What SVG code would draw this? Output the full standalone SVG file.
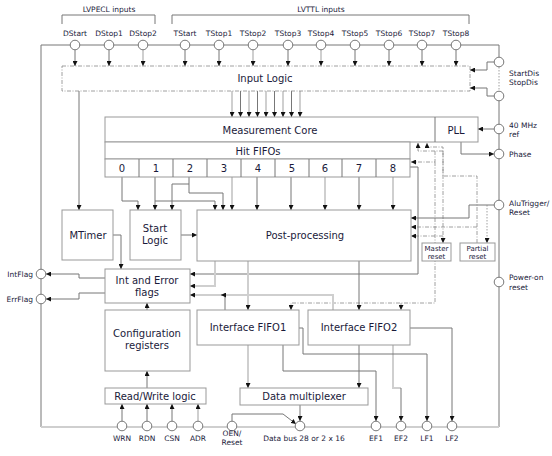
<svg xmlns="http://www.w3.org/2000/svg" width="552" height="456" viewBox="0 0 552 456">
<defs>
<marker id="a" viewBox="0 0 6 6" refX="6" refY="3" markerWidth="5" markerHeight="5" markerUnits="userSpaceOnUse" orient="auto"><path d="M0,0 L6,3 L0,6 z" fill="#111"/></marker>
<style>
.box{fill:#fff;stroke:#999;stroke-width:1}
.ln{fill:none;stroke:#777;stroke-width:1}
.lt{fill:none;stroke:#cfcfcf;stroke-width:2}
.dd{fill:none;stroke:#888;stroke-width:0.8;stroke-dasharray:4 1.5 1 1.5}
.dt{fill:none;stroke:#888;stroke-width:0.8;stroke-dasharray:1.5 1.5}
.ar{marker-end:url(#a)}
.c{fill:#fff;stroke:#777;stroke-width:1}
.t{font-family:"DejaVu Sans",Verdana,sans-serif;font-size:10px;fill:#1a1a3a;text-anchor:middle}
.s{font-size:7.5px}
.st{text-anchor:start}
.en{text-anchor:end}
.xs{font-size:7px}
</style>
</defs>

<g id="frame">
<path class="ln" d="M62,24 V15 H155 V24"/>
<text class="t s" x="109" y="12">LVPECL inputs</text>
<path class="ln" d="M172,24 V15 H469 V24"/>
<text class="t s" x="321" y="12">LVTTL inputs</text>
<path class="ln" d="M41,427 V45 H499 V57"/>
<path class="dt" d="M499,67 V91"/>
<path class="ln" d="M499,101 V427"/>
<path class="lt" d="M41,427 H499"/>
</g>

<g id="connectors">
<path class="ln ar" d="M75,50 V66"/>
<path class="ln ar" d="M109,50 V66"/>
<path class="lt ar" d="M143,50 V66"/>
<path class="ln ar" d="M185,50 V66"/>
<path class="ln ar" d="M219,50 V66"/>
<path class="lt ar" d="M253,50 V66"/>
<path class="ln ar" d="M288,50 V66"/>
<path class="lt ar" d="M321,50 V66"/>
<path class="ln ar" d="M355,50 V66"/>
<path class="ln ar" d="M389,50 V66"/>
<path class="ln ar" d="M422,50 V66"/>
<path class="ln ar" d="M456,50 V66"/>
<path class="ln ar" d="M494,62 H487 V70 H470"/>
<path class="ln ar" d="M494,96 H487 V88 H470"/>
<path class="lt ar" d="M232,91 V117"/>
<path class="ln ar" d="M240.5,91 V117"/>
<path class="lt ar" d="M249,91 V117"/>
<path class="ln ar" d="M257.5,91 V117"/>
<path class="lt ar" d="M266,91 V117"/>
<path class="ln ar" d="M274.5,91 V117"/>
<path class="lt ar" d="M283,91 V117"/>
<path class="ln ar" d="M291.5,91 V117"/>
<path class="lt ar" d="M300,91 V117"/>
<path class="ln ar" d="M79,91 V210"/>
<path class="ln ar" d="M494,129 H478"/>
<path class="ln ar" d="M461,142 V154 H494"/>
<path class="ln ar" d="M122,177 V201 H138 V210"/>
<path class="ln ar" d="M155,177 V210"/>
<path class="ln ar" d="M155,201 H215 V210"/>
<path class="ln ar" d="M189,177 V193 H223 V210"/>
<path class="ln ar" d="M189,184 H172 V210"/>
<path class="lt ar" d="M232,177 V210"/>
<path class="ln ar" d="M257,177 V210"/>
<path class="ln ar" d="M291,177 V210"/>
<path class="lt ar" d="M325,177 V210"/>
<path class="ln ar" d="M359,177 V210"/>
<path class="lt ar" d="M393,177 V210"/>
<path class="ln ar" d="M410,167 H418 V274 H190"/>
<path class="dd ar" d="M443,151 H418 V143"/>
<path class="dd ar" d="M443,151 V243"/>
<path class="dd ar" d="M477,243 V176 H443 V147 H427 V143"/>
<path class="dd ar" d="M435,151 V162 H411"/>
<path class="dd ar" d="M435,162 V303 H291 V310"/>
<path class="dd ar" d="M401,303 V310"/>
<path class="dd ar" d="M477,227 H411"/>
<path class="dd ar" d="M443,236 H411"/>
<path class="ln ar" d="M494,205 H469 V218 H411"/>
<path class="dt ar" d="M487,205 V243"/>
<path class="ln ar" d="M181,235 H197"/>
<path class="ln ar" d="M113,235 H121 V269"/>
<path class="ln ar" d="M105,278 H79 V274 H46"/>
<path class="ln ar" d="M105,293 H79 V299 H46"/>
<path class="lt ar" d="M215,261 V286 H190"/>
<path class="lt ar" d="M248,261 V310"/>
<path class="ln ar" d="M359,261 V310"/>
<path class="lt ar" d="M333,310 V295 H190"/>
<path class="ln ar" d="M225,310 V295 H221"/>
<path class="ln ar" d="M147,310 V303"/>
<path class="ln ar" d="M147,388 V371"/>
<path class="ln ar" d="M122,421 V404"/>
<path class="ln ar" d="M147,421 V404"/>
<path class="ln ar" d="M172,421 V404"/>
<path class="lt ar" d="M198,421 V404"/>
<path class="lt ar" d="M248,345 V388"/>
<path class="ln ar" d="M359,345 V388"/>
<path class="ln ar" d="M300,405 V421"/>
<path class="ln ar" d="M232,421 V414 H283 L296,424"/>
<path class="ln ar" d="M283,345 V371 H376 V421"/>
<path class="lt" d="M393,345 V388 H401"/>
<path class="ln ar" d="M401,388 V421"/>
<path class="ln ar" d="M299,328 H303 V354 H427 V421"/>
<path class="ln ar" d="M410,328 H452 V421"/>
</g>

<g id="pins">
<circle class="c" cx="75" cy="45" r="4.8"/>
<circle class="c" cx="109" cy="45" r="4.8"/>
<circle class="c" cx="143" cy="45" r="4.8"/>
<circle class="c" cx="185" cy="45" r="4.8"/>
<circle class="c" cx="219" cy="45" r="4.8"/>
<circle class="c" cx="253" cy="45" r="4.8"/>
<circle class="c" cx="288" cy="45" r="4.8"/>
<circle class="c" cx="321" cy="45" r="4.8"/>
<circle class="c" cx="355" cy="45" r="4.8"/>
<circle class="c" cx="389" cy="45" r="4.8"/>
<circle class="c" cx="422" cy="45" r="4.8"/>
<circle class="c" cx="456" cy="45" r="4.8"/>
<text class="t s" x="75" y="36">DStart</text>
<text class="t s" x="109" y="36">DStop1</text>
<text class="t s" x="143" y="36">DStop2</text>
<text class="t s" x="185" y="36">TStart</text>
<text class="t s" x="219" y="36">TStop1</text>
<text class="t s" x="253" y="36">TStop2</text>
<text class="t s" x="288" y="36">TStop3</text>
<text class="t s" x="321" y="36">TStop4</text>
<text class="t s" x="355" y="36">TStop5</text>
<text class="t s" x="389" y="36">TStop6</text>
<text class="t s" x="422" y="36">TStop7</text>
<text class="t s" x="456" y="36">TStop8</text>
<circle class="c" cx="499" cy="62" r="4.8"/>
<circle class="c" cx="499" cy="96" r="4.8"/>
<text class="t s st" x="509" y="76">StartDis</text>
<text class="t s st" x="509" y="85">StopDis</text>
<circle class="c" cx="499" cy="129" r="4.8"/>
<text class="t s st" x="509" y="128">40 MHz</text>
<text class="t s st" x="509" y="137">ref</text>
<circle class="c" cx="499" cy="154" r="4.8"/>
<text class="t s st" x="509" y="157">Phase</text>
<circle class="c" cx="499" cy="205" r="4.8"/>
<text class="t s st" x="509" y="206">AluTrigger/</text>
<text class="t s st" x="509" y="215">Reset</text>
<circle class="c" cx="499" cy="282" r="4.8"/>
<text class="t s st" x="509" y="280">Power-on</text>
<text class="t s st" x="509" y="290">reset</text>
<circle class="c" cx="41" cy="274" r="4.8"/>
<circle class="c" cx="41" cy="299" r="4.8"/>
<text class="t s en" x="33" y="277">IntFlag</text>
<text class="t s en" x="33" y="302">ErrFlag</text>
<circle class="c" cx="122" cy="426" r="4.8"/>
<circle class="c" cx="147" cy="426" r="4.8"/>
<circle class="c" cx="172" cy="426" r="4.8"/>
<circle class="c" cx="198" cy="426" r="4.8"/>
<circle class="c" cx="232" cy="426" r="4.8"/>
<circle class="c" cx="300" cy="426" r="4.8"/>
<circle class="c" cx="376" cy="426" r="4.8"/>
<circle class="c" cx="401" cy="426" r="4.8"/>
<circle class="c" cx="427" cy="426" r="4.8"/>
<circle class="c" cx="452" cy="426" r="4.8"/>
<text class="t s" x="122" y="441">WRN</text>
<text class="t s" x="147" y="441">RDN</text>
<text class="t s" x="172" y="441">CSN</text>
<text class="t s" x="198" y="441">ADR</text>
<text class="t s" x="232" y="436">OEN/</text>
<text class="t s" x="232" y="445">Reset</text>
<text class="t s" x="304" y="441">Data bus 28 or 2 x 16</text>
<text class="t s" x="376" y="441">EF1</text>
<text class="t s" x="401" y="441">EF2</text>
<text class="t s" x="427" y="441">LF1</text>
<text class="t s" x="452" y="441">LF2</text>
</g>

<g id="input-logic">
<rect x="62" y="66" width="408" height="25" fill="#fff" class="dd"/>
<text class="t" x="265" y="82">Input Logic</text>
</g>

<g id="measurement-core">
<rect class="box" x="105" y="117" width="373" height="25"/>
<line class="ln" x1="435" y1="117" x2="435" y2="142"/>
<text class="t" x="270" y="134">Measurement Core</text>
<text class="t" x="456" y="134">PLL</text>
</g>

<g id="hit-fifos">
<rect class="box" x="105" y="142" width="305" height="17"/>
<text class="t" x="258" y="155">Hit FIFOs</text>
<rect class="box" x="105" y="159" width="305" height="18"/>
<path class="ln" d="M139,159 V177 M173,159 V177 M207,159 V177 M241,159 V177 M275,159 V177 M309,159 V177 M342,159 V177 M376,159 V177"/>
<text class="t" x="122" y="172">0</text>
<text class="t" x="156" y="172">1</text>
<text class="t" x="190" y="172">2</text>
<text class="t" x="224" y="172">3</text>
<text class="t" x="258" y="172">4</text>
<text class="t" x="292" y="172">5</text>
<text class="t" x="325" y="172">6</text>
<text class="t" x="359" y="172">7</text>
<text class="t" x="393" y="172">8</text>
</g>

<g id="mtimer">
<rect class="box" x="62" y="210" width="51" height="50"/>
<text class="t" x="88" y="239">MTimer</text>
</g>

<g id="start-logic">
<rect class="box" x="130" y="210" width="51" height="50"/>
<text class="t" x="155" y="232">Start</text>
<text class="t" x="155" y="244">Logic</text>
</g>

<g id="post-processing">
<rect class="box" x="197" y="210" width="214" height="51"/>
<text class="t" x="305" y="239">Post-processing</text>
</g>

<g id="master-reset">
<rect class="box" x="422" y="243" width="29" height="18"/>
<text class="t xs" x="436.5" y="251">Master</text>
<text class="t xs" x="436.5" y="259">reset</text>
</g>

<g id="partial-reset">
<rect class="box" x="460" y="243" width="35" height="18"/>
<text class="t xs" x="477.5" y="251">Partial</text>
<text class="t xs" x="477.5" y="259">reset</text>
</g>

<g id="int-error-flags">
<rect class="box" x="105" y="269" width="85" height="34"/>
<text class="t" x="147" y="284">Int and Error</text>
<text class="t" x="147" y="296">flags</text>
</g>

<g id="config-registers">
<rect class="box" x="105" y="310" width="85" height="61"/>
<text class="t" x="147" y="337">Configuration</text>
<text class="t" x="147" y="349">registers</text>
</g>

<g id="rw-logic">
<rect class="box" x="105" y="388" width="101" height="16"/>
<text class="t" x="155" y="400">Read/Write logic</text>
</g>

<g id="interface-fifo1">
<rect class="box" x="197" y="310" width="102" height="35"/>
<text class="t" x="248" y="331">Interface FIFO1</text>
</g>

<g id="interface-fifo2">
<rect class="box" x="308" y="310" width="102" height="35"/>
<text class="t" x="359" y="331">Interface FIFO2</text>
</g>

<g id="data-mux">
<rect class="box" x="240" y="388" width="128" height="17"/>
<text class="t" x="304" y="400">Data multiplexer</text>
</g>
</svg>
